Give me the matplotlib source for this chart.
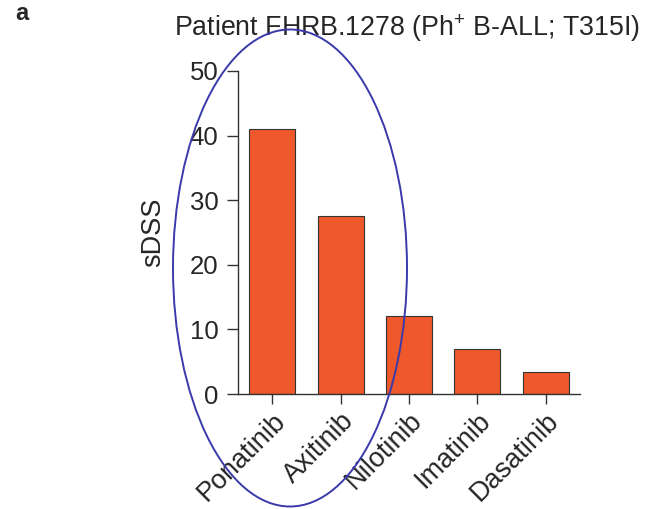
import matplotlib
matplotlib.use("Agg")
import matplotlib.pyplot as plt
from matplotlib.patches import Ellipse

plt.rcParams["font.family"] = ["Liberation Sans", "DejaVu Sans"]
plt.rcParams["mathtext.fontset"] = "custom"
plt.rcParams["mathtext.rm"] = "Liberation Sans"
plt.rcParams["mathtext.it"] = "Liberation Sans:italic"

drugs = ["Ponatinib", "Axitinib", "Nilotinib", "Imatinib", "Dasatinib"]
sdss = [41.0, 27.5, 12.1, 7.0, 3.4]
yticks = [0, 10, 20, 30, 40, 50]

W, H = 648, 509
fig = plt.figure(figsize=(W / 100, H / 100), dpi=100)
ax = fig.add_axes([238 / W, 1 - 394 / H, (580 - 238) / W, (394 - 71) / H])

dark = "#333333"
txt = "#262626"
ax.bar(range(len(drugs)), sdss, width=0.67, color="#EE582A",
       edgecolor=dark, linewidth=0.8)

ax.set_xlim(-0.5, 4.5)
ax.set_ylim(0, 50)
ax.set_yticks(yticks)
ax.set_xticks(range(len(drugs)))
ax.set_xticklabels(drugs, rotation=45, ha="right", va="top",
                   rotation_mode="anchor")

for s in ["top", "right"]:
    ax.spines[s].set_visible(False)
for s in ["left", "bottom"]:
    ax.spines[s].set_color(dark)
    ax.spines[s].set_linewidth(1.0)

ax.tick_params(axis="y", length=8, width=1.0, color=dark, pad=6,
               labelsize=18.5, labelcolor=txt)
ax.tick_params(axis="x", length=7, width=1.0, color=dark, pad=3,
               labelsize=19.5, labelcolor=txt)

ax.set_ylabel("sDSS", fontsize=19.5, color=txt, labelpad=17)

fig.text(407 / W, 1 - 28 / H, r"Patient FHRB.1278 (Ph$^{\mathrm{+}}$ B-ALL; T315I)",
         ha="center", va="center", fontsize=19.3, color=txt)
fig.text(15 / W, 1 - 14 / H, "a", ha="left", va="center", fontsize=17,
         fontweight="bold", color=txt)

# hand-drawn highlight around the top three drugs
ell = Ellipse((290 / W, 1 - 268 / H), 234 / W, 477 / H,
              transform=fig.transFigure, fill=False,
              edgecolor="#3A3AAA", linewidth=1.4, zorder=10)
fig.add_artist(ell)

fig.savefig("out.png", dpi=100)
